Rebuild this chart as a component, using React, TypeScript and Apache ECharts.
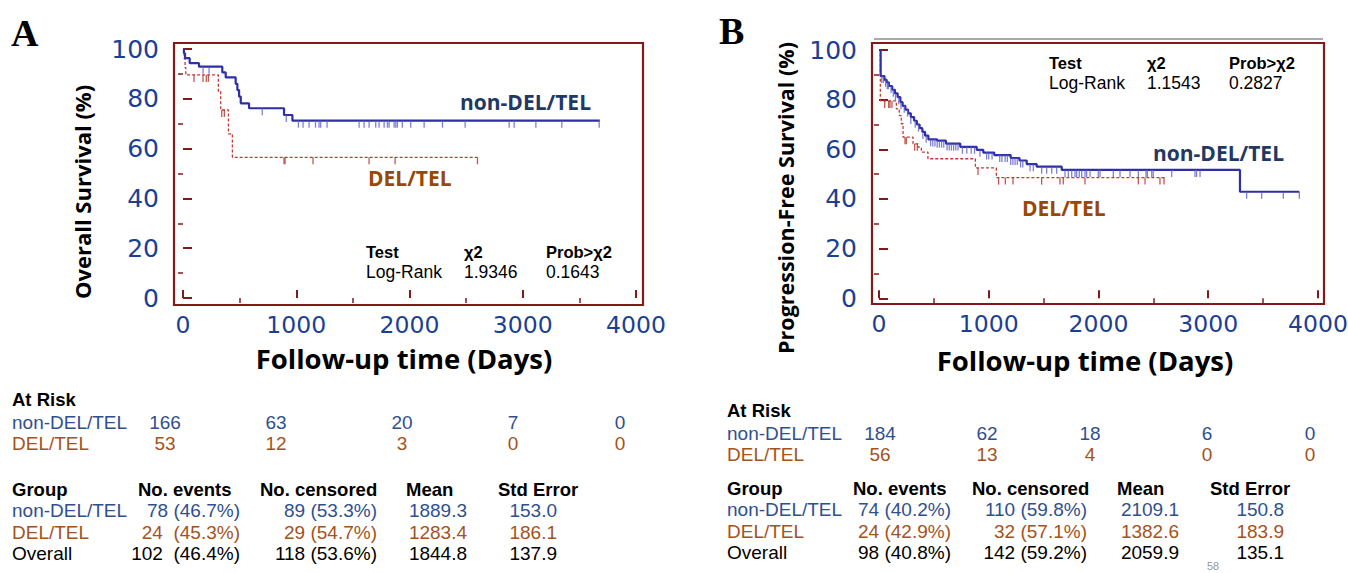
import React, { useEffect, useRef } from "react";
import * as echarts from "echarts";

// ---------------- Panel A: Overall survival ----------------
const stepsA_non: [number, number][] = [
  [0, 100], [8, 98.3], [18, 96.3], [59, 94.3], [141, 92.9], [347, 90.6], [377, 88.6],
  [465, 86.0], [480, 83.5], [495, 80.9], [510, 78.2], [583, 76.2], [892, 73.5], [966, 71.2], [3680, 71.2],
];
const stepsA_del: [number, number][] = [
  [0, 100], [10, 96.2], [18, 92.5], [25, 89.6], [312, 82.9], [333, 75.5], [401, 65.9], [436, 56.5], [2600, 56.5],
];
const censA_non = [177, 230, 700, 912, 1019, 1060, 1113, 1170, 1201, 1216, 1272, 1555, 1599, 1643, 1702, 1731,
  1776, 1805, 1820, 1864, 1879, 1893, 1937, 2011, 2129, 2291, 2491, 2880, 2924, 3116, 3345, 3675];
const censA_del = [97, 177, 206, 224, 342, 365, 892, 901, 1148, 1643, 1873, 2600];

// ---------------- Panel B: Progression-free survival ----------------
const stepsB_non: [number, number][] = [
  [0, 100], [15, 89.5], [50, 88], [70, 87], [90, 85.5], [120, 84], [145, 82.5], [170, 81], [195, 79],
  [215, 77.5], [240, 76], [265, 74.5], [290, 73], [320, 71.5], [345, 70], [370, 68.5], [395, 67],
  [420, 65.5], [450, 64], [530, 63.5], [610, 62.3], [740, 61], [890, 59.8], [950, 58.7], [1050, 57.7],
  [1200, 56.5], [1280, 55.5], [1346, 54], [1437, 53], [1665, 51.7], [3289, 42.9], [3830, 42.9],
];
const stepsB_del: [number, number][] = [
  [0, 100], [12, 79.5], [158, 76.3], [185, 73.6], [203, 70.3], [219, 64.9], [310, 62.2], [355, 60.9],
  [386, 58.9], [446, 56.2], [878, 52.5], [1069, 48.6], [2600, 48.6],
];
const censB_non = [25, 40, 60, 75, 85, 110, 130, 150, 180, 200, 230, 260, 290, 330, 360, 400, 430, 470, 490,
  510, 530, 550, 570, 590, 620, 640, 660, 680, 700, 720, 760, 800, 840, 870, 920, 980, 1000, 1030, 1100,
  1120, 1150, 1170, 1200, 1220, 1240, 1260, 1290, 1310, 1376, 1406, 1482, 1528, 1574, 1619, 1695, 1725,
  1756, 1786, 1801, 1825, 1847, 1877, 1892, 1923, 1998, 2014, 2135, 2196, 2287, 2363, 2433, 2445, 2485,
  2499, 2667, 2879, 2894, 2925, 3350, 3487, 3684, 3830];
const censB_del = [52, 88, 100, 118, 237, 249, 325, 349, 902, 1090, 1151, 1221, 1482, 1649, 1679, 1877,
  2363, 2424, 2560, 2597];

// ---------------- Tick labels ----------------
const xTicks = [0, 1000, 2000, 3000, 4000];
const xMinorTicks = [500, 1500, 2500, 3500];
const yTicks = [0, 20, 40, 60, 80, 100];
const yMinorTicks = [10, 30, 50, 70, 90];

// ---------------- Tables ----------------
const groups = ["non-DEL/TEL", "DEL/TEL"];
const atRiskA_non = ["166", "63", "20", "7", "0"];
const atRiskA_del = ["53", "12", "3", "0", "0"];
const atRiskB_non = ["184", "62", "18", "6", "0"];
const atRiskB_del = ["56", "13", "4", "0", "0"];
const sumHeader = ["Group", "No. events", "No. censored", "Mean", "Std Error"];
const sumA_non = ["78 (46.7%)", "89 (53.3%)", "1889.3", "153.0"];
const sumA_del = ["24  (45.3%)", "29 (54.7%)", "1283.4", "186.1"];
const sumA_all = ["102  (46.4%)", "118 (53.6%)", "1844.8", "137.9"];
const sumB_non = ["74 (40.2%)", "110 (59.8%)", "2109.1", "150.8"];
const sumB_del = ["24 (42.9%)", "32 (57.1%)", "1382.6", "183.9"];
const sumB_all = ["98 (40.8%)", "142 (59.2%)", "2059.9", "135.1"];
const testHeader = ["Test", "χ2", "Prob>χ2"];
const testA = ["Log-Rank", "1.9346", "0.1643"];
const testB = ["Log-Rank", "1.1543", "0.2827"];

const MAROON = "#821a1a";
const AXBLUE = "#1b3f95";
const LINEBLUE = "#2e2ea8";
const CENSBLUE = "#6060c8";
const LINERED = "#c23b32";
const CENSRED = "#b03028";
const NAVY = "#1f3864";
const BROWN = "#984807";
const TBLUE = "#2f4f8f";
const TBROWN = "#a5521b";

const survAt = (steps: [number, number][], t: number) => {
  let s = steps[0][1];
  for (const [x, y] of steps) {
    if (x <= t) s = y;
    else break;
  }
  return s;
};

const txt = (text: string, x: number, y: number, font: string, fill: string, align = "left", rotation = 0, lh?: number) => ({
  type: "text",
  x,
  y,
  rotation,
  silent: true,
  style: {
    text,
    font,
    fill,
    textAlign: align,
    textVerticalAlign: "middle",
    align,
    verticalAlign: "middle",
    ...(lh ? { lineHeight: lh } : {}),
  },
});

const F = (size: number, bold = false, family = '"Open Sans"') => `${bold ? "bold " : ""}${size}px ${family}`;
const L = (size: number, bold = false) => F(size, bold, '"Liberation Sans"');

function mainX(grid: number, min: number, max: number) {
  return {
    gridIndex: grid,
    type: "value",
    min,
    max,
    axisLine: { show: false },
    axisTick: { show: true, inside: true, length: 8, customValues: xTicks, lineStyle: { color: MAROON, width: 2 } },
    splitLine: { show: false },
    axisLabel: {
      customValues: xTicks,
      color: AXBLUE,
      fontSize: 23.5,
      fontFamily: "DejaVu Sans",
      margin: 8,
      formatter: (v: number) => String(v),
    },
  };
}
function minorX(grid: number, min: number, max: number) {
  return {
    gridIndex: grid,
    type: "value",
    min,
    max,
    axisLine: { show: false },
    axisTick: { show: true, inside: true, length: 5, customValues: xMinorTicks, lineStyle: { color: MAROON, width: 1.5 } },
    splitLine: { show: false },
    axisLabel: { show: false, customValues: xMinorTicks },
  };
}
function mainY(grid: number, min: number, max: number) {
  return {
    gridIndex: grid,
    type: "value",
    min,
    max,
    axisLine: { show: false },
    axisTick: { show: true, inside: true, length: 9, customValues: yTicks, lineStyle: { color: MAROON, width: 2 } },
    splitLine: { show: false },
    axisLabel: {
      customValues: yTicks,
      color: AXBLUE,
      fontSize: 25,
      fontFamily: "DejaVu Sans",
      margin: 15,
      formatter: (v: number) => String(v),
    },
  };
}
function minorY(grid: number, min: number, max: number) {
  return {
    gridIndex: grid,
    type: "value",
    min,
    max,
    axisLine: { show: false },
    axisTick: { show: true, inside: true, length: 5, customValues: yMinorTicks, lineStyle: { color: MAROON, width: 1.5 } },
    splitLine: { show: false },
    axisLabel: { show: false, customValues: yMinorTicks },
  };
}

function kmSeries(grid: number, steps: [number, number][], cens: number[], color: string, censColor: string, dashed: boolean) {
  return [
    {
      type: "line",
      xAxisIndex: grid,
      yAxisIndex: grid,
      step: "end",
      showSymbol: false,
      symbol: "none",
      data: steps,
      lineStyle: dashed ? { color, width: 1.3, type: [3, 2] } : { color, width: 2.2 },
      z: dashed ? 3 : 4,
    },
    {
      type: "scatter",
      xAxisIndex: grid,
      yAxisIndex: grid,
      symbol: "rect",
      symbolSize: [1.3, 7],
      symbolOffset: [0, 3.5],
      itemStyle: { color: censColor },
      data: cens.map((t) => [t, survAt(steps, t)]),
      z: 5,
    },
  ];
}

export default function App() {
  const ref = useRef<HTMLDivElement>(null);
  useEffect(() => {
    if (!ref.current) return;
    const chart = echarts.init(ref.current, null, { renderer: "svg" });

    // Panel A frame 174..643 x 43..305; 0 day at 183, 4000 at 636; 100% at 49, 0% at 298
    const axA = { xmin: -79.5, xmax: 4061.8, ymin: -2.81, ymax: 102.41 };
    // Panel B frame 872..1324 x 43..304; 0 day at 879, 4000 at 1318; 100% at 50, 0% at 298.3
    const axB = { xmin: -63.8, xmax: 4054.7, ymin: -2.3, ymax: 102.82 };

    const graphic: any[] = [];
    graphic.push({ type: "line", shape: { x1: 874, y1: 39, x2: 1323, y2: 39 }, style: { stroke: "#555", lineWidth: 1 } });

    // panel letters
    graphic.push(txt("A", 11, 33, 'bold 38px "Liberation Serif"', "#000"));
    graphic.push(txt("B", 719, 31, 'bold 38px "Liberation Serif"', "#000"));

    // axis titles
    graphic.push(txt("Overall Survival (%)", 82, 192, F(22, true), "#000", "center", Math.PI / 2));
    graphic.push(txt("Progression-Free Survival (%)", 785, 198, F(21.5, true), "#000", "center", Math.PI / 2));
    graphic.push(txt("Follow-up time (Days)", 404, 358, F(27.5, true), "#000", "center"));
    graphic.push(txt("Follow-up time (Days)", 1085, 360, F(27.5, true), "#000", "center"));

    // curve labels
    graphic.push(txt(groups[0], 460, 102, F(21, true), NAVY));
    graphic.push(txt(groups[1], 368, 178, F(21, true), BROWN));
    graphic.push(txt(groups[0], 1153, 153, F(21, true), NAVY));
    graphic.push(txt(groups[1], 1022, 208, F(21, true), BROWN));

    // test blocks
    const testCols = (x0: number, y0: number, vals: string[]) => {
      const xs = [x0, x0 + 98, x0 + 180];
      testHeader.forEach((h, i) => graphic.push(txt(h, xs[i], y0, L(16.5, true), "#000", "left", 0, 17)));
      vals.forEach((v, i) => graphic.push(txt(v, xs[i], y0 + 20, L(17.5), "#000", "left", 0, 18)));
    };
    testCols(366, 252, testA);
    testCols(1049, 63, testB);

    // at-risk tables
    const riskTable = (x0: number, y0: number, cols: number[], non: string[], del: string[]) => {
      graphic.push(txt("At Risk", x0, y0, L(18.5, true), "#000", "left", 0, 19));
      graphic.push(txt(groups[0], x0, y0 + 23, L(19), TBLUE, "left", 0, 19));
      graphic.push(txt(groups[1], x0, y0 + 44, L(19), TBROWN, "left", 0, 19));
      non.forEach((v, i) => graphic.push(txt(v, cols[i], y0 + 23, L(19), TBLUE, "center", 0, 19)));
      del.forEach((v, i) => graphic.push(txt(v, cols[i], y0 + 44, L(19), TBROWN, "center", 0, 19)));
    };
    riskTable(12, 399, [165, 276, 402, 513, 620], atRiskA_non, atRiskA_del);
    riskTable(727, 410, [880, 987, 1090, 1207, 1310], atRiskB_non, atRiskB_del);

    // summary tables
    const sumTable = (x0: number, y0: number, hx: number[], rx: number[], rows: string[][], colors: string[], labels: string[]) => {
      sumHeader.forEach((h, i) => graphic.push(txt(h, hx[i], y0, L(18.5, true), "#000", "left", 0, 19)));
      rows.forEach((r, j) => {
        const yy = y0 + 21.5 * (j + 1);
        graphic.push(txt(labels[j], x0, yy, L(19), colors[j], "left", 0, 19));
        r.forEach((v, i) => graphic.push(txt(v, rx[i], yy, L(19), colors[j], "right", 0, 19)));
      });
    };
    sumTable(12, 489, [12, 138, 260, 406, 498], [240, 377, 467, 557], [sumA_non, sumA_del, sumA_all], [TBLUE, TBROWN, "#000"], [groups[0], groups[1], "Overall"]);
    sumTable(727, 488, [727, 853, 972, 1117, 1210], [951, 1087, 1179, 1284], [sumB_non, sumB_del, sumB_all], [TBLUE, TBROWN, "#000"], [groups[0], groups[1], "Overall"]);

    graphic.push(txt("58", 1207, 566, L(11), "#999", "left", 0, 11));

    const gridBase = { containLabel: false, outerBoundsMode: "none", show: true, borderColor: MAROON, borderWidth: 2.2, backgroundColor: "transparent" };

    chart.setOption({
      animation: false,
      backgroundColor: "#fff",
      grid: [
        { ...gridBase, left: 174, top: 43, width: 469, height: 262 },
        { ...gridBase, left: 872, top: 43, width: 452, height: 261 },
      ],
      xAxis: [
        mainX(0, axA.xmin, axA.xmax),
        mainX(1, axB.xmin, axB.xmax),
        minorX(0, axA.xmin, axA.xmax),
        minorX(1, axB.xmin, axB.xmax),
      ],
      yAxis: [
        mainY(0, axA.ymin, axA.ymax),
        mainY(1, axB.ymin, axB.ymax),
        minorY(0, axA.ymin, axA.ymax),
        minorY(1, axB.ymin, axB.ymax),
      ],
      series: [
        ...kmSeries(0, stepsA_del, censA_del, LINERED, CENSRED, true),
        ...kmSeries(0, stepsA_non, censA_non, LINEBLUE, CENSBLUE, false),
        ...kmSeries(1, stepsB_del, censB_del, LINERED, CENSRED, true),
        ...kmSeries(1, stepsB_non, censB_non, LINEBLUE, CENSBLUE, false),
      ],
      graphic,
    });
    return () => chart.dispose();
  }, []);
  return <div ref={ref} style={{ position: "absolute", left: 0, top: 0, width: 1348, height: 573 }} />;
}
